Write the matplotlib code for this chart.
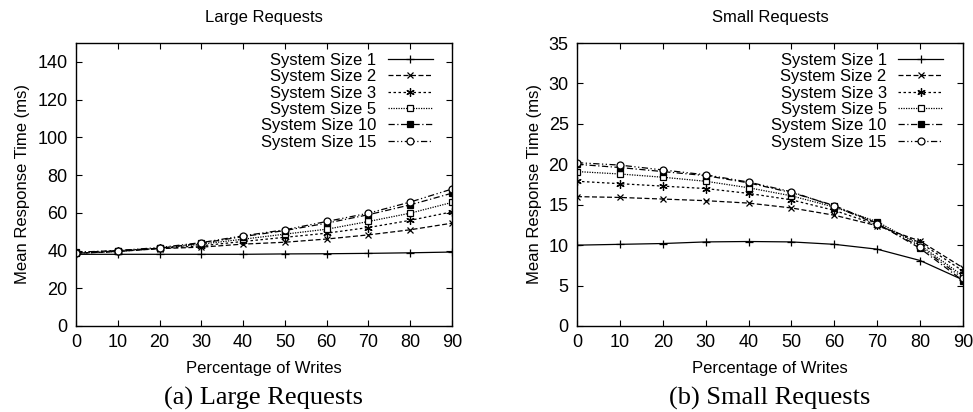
import matplotlib
matplotlib.use("Agg")
import matplotlib.pyplot as plt

writes = [0, 10, 20, 30, 40, 50, 60, 70, 80, 90]
labels = ["System Size 1", "System Size 2", "System Size 3",
          "System Size 5", "System Size 10", "System Size 15"]

large_s1 = [38.0, 38.0, 38.0, 38.0, 38.0, 38.2, 38.3, 38.5, 38.8, 39.2]
large_s2 = [38.5, 39.5, 41.0, 41.8, 43.4, 44.4, 46.1, 48.3, 51.0, 54.5]
large_s3 = [38.6, 39.6, 41.1, 42.5, 44.8, 47.0, 49.2, 52.2, 56.0, 60.5]
large_s5 = [38.6, 39.5, 41.2, 43.4, 46.0, 48.7, 51.3, 55.4, 59.8, 65.5]
large_s10 = [39.1, 40.0, 41.2, 43.9, 47.4, 50.6, 54.5, 59.0, 64.2, 70.4]
large_s15 = [38.9, 40.0, 41.6, 44.2, 47.8, 51.0, 55.4, 59.8, 65.7, 72.6]

small_s1 = [10.0, 10.1, 10.2, 10.4, 10.45, 10.4, 10.1, 9.5, 8.1, 5.7]
small_s2 = [16.0, 15.9, 15.7, 15.5, 15.2, 14.6, 13.7, 12.4, 10.5, 7.2]
small_s3 = [17.9, 17.6, 17.3, 17.0, 16.4, 15.6, 14.3, 12.5, 10.3, 6.8]
small_s5 = [19.1, 18.8, 18.4, 17.9, 17.1, 16.1, 14.7, 12.9, 10.0, 6.2]
small_s10 = [20.0, 19.6, 19.1, 18.6, 17.7, 16.5, 14.9, 12.7, 9.6, 5.6]
small_s15 = [20.2, 19.9, 19.3, 18.7, 17.8, 16.6, 14.8, 12.6, 9.8, 5.9]

large = [large_s1, large_s2, large_s3, large_s5, large_s10, large_s15]
small = [small_s1, small_s2, small_s3, small_s5, small_s10, small_s15]

styles = [
    dict(linestyle="-", marker="+", markersize=6, mfc="black"),
    dict(linestyle=(0, (4, 2)), marker="x", markersize=5, mfc="black"),
    dict(linestyle=(0, (2, 2)), marker=(6, 2, 0), markersize=6, mfc="black"),
    dict(linestyle=(0, (1, 1)), marker="s", markersize=5, mfc="white"),
    dict(linestyle=(0, (5, 2, 1, 2)), marker="s", markersize=5, mfc="black"),
    dict(linestyle=(0, (5, 2, 1, 2, 1, 2)), marker="o", markersize=5, mfc="white"),
]

plt.rcParams["font.family"] = ["Liberation Sans", "DejaVu Sans"]

fig = plt.figure(figsize=(9.73, 4.12), dpi=100)
ax1 = fig.add_axes([76/973, 1-326/412, 376/973, 283/412])
ax2 = fig.add_axes([577/973, 1-326/412, 386/973, 283/412])

def draw(ax, data, ymax, yticks, title, caption):
    for d, lab, st in zip(data, labels, styles):
        ax.plot(writes, d, color="black", linewidth=0.9, label=lab,
                markeredgewidth=0.9, mec="black", **st)
    ax.set_xlim(0, 90)
    ax.set_ylim(0, ymax)
    ax.set_xticks(writes)
    ax.set_yticks(yticks)
    ax.tick_params(direction="in", top=True, right=True, length=4,
                   labelsize=13, width=0.8, pad=6)
    for sp in ax.spines.values():
        sp.set_linewidth(1.0)
    ax.set_xlabel("Percentage of Writes", fontsize=12, labelpad=7)
    ax.set_ylabel("Mean Response Time (ms)", fontsize=12, labelpad=5)
    pos = ax.get_position()
    cx = (pos.x0 + pos.x1) / 2
    fig.text(cx, 1 - 22/412, title, ha="center", va="baseline", fontsize=12)
    fig.text(cx, 1 - 405/412, caption, ha="center", va="baseline",
             fontsize=19, family=["Liberation Serif", "DejaVu Serif"])
    ax.legend(loc="upper right", frameon=False, markerfirst=False,
              fontsize=12, handlelength=2.7, handletextpad=0.7,
              labelspacing=0.08, borderaxespad=0.2, bbox_to_anchor=(0.975, 1.0))

draw(ax1, large, 150, range(0, 141, 20), "Large Requests", "(a) Large Requests")
draw(ax2, small, 35, range(0, 36, 5), "Small Requests", "(b) Small Requests")

fig.savefig("out.png", dpi=100)
